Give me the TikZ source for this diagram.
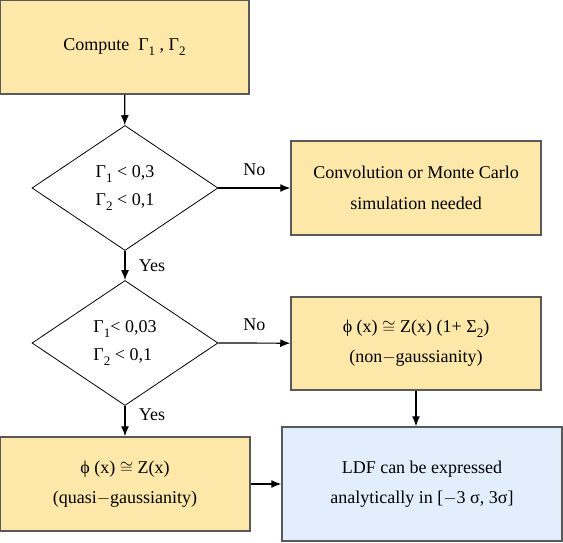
\documentclass[tikz,border=0pt]{standalone}
\usepackage{fontspec}
\setmainfont{Liberation Serif}
\usetikzlibrary{arrows.meta,positioning}
\usetikzlibrary{shapes.geometric}
\usetikzlibrary{calc}
\definecolor{boxyellow}{HTML}{FDE7A9}
\definecolor{boxblue}{HTML}{E2EEFC}
\newcommand{\lowsub}[1]{\raisebox{-5pt}{\fontsize{13}{13}\selectfont #1}}

\begin{document}
\begin{tikzpicture}[
    x=1pt, y=1pt,
    font=\fontsize{18}{30}\selectfont,
    box/.style={draw=black!65, line width=1.5pt, fill=boxyellow, align=center,
        inner sep=0pt, minimum width=250pt, minimum height=94pt},
    decision/.style={draw, diamond, line width=0.8pt, align=left, inner sep=0pt,
        minimum width=186pt, minimum height=125pt},
    line/.style={line width=1.2pt, -{Latex[length=10pt,width=8pt]}},
]
\useasboundingbox (0,0) rectangle (563,-543);
\node[box, minimum width=249pt] (compute) at (124.5,-47) {Compute\ \ Γ\lowsub{1} , Γ\lowsub{2}};
\node[decision] (cond1) at (125,-188) {Γ\lowsub{1} < 0,3\\[-2pt] Γ\lowsub{2} < 0,1};
\node[box] (conv) at (416,-188) {Convolution or Monte Carlo\\[1pt] simulation needed};
\node[decision] (cond2) at (125,-343) {Γ\lowsub{1}< 0,03\\[-2pt] Γ\lowsub{2} < 0,1};
\node[box, minimum height=93pt] (nongauss) at (416,-343.5) {ϕ (x) $\cong$ Z(x) (1+ Σ\lowsub{2})\\ (non$-$gaussianity)};
\node[box] (quasi) at (125,-484) {ϕ (x) $\cong$ Z(x)\\ (quasi$-$gaussianity)};
\node[box, fill=boxblue, minimum width=280pt, minimum height=114pt] (ldf) at (422,-484) {LDF can be expressed\\ analytically in [$-$3 σ, 3σ]};

\draw[line] (compute) -- (cond1);
\draw[line] (cond1.east) -- node[above=8pt] {No} (conv);
\draw[line] (cond1.south) -- node[right=10pt] {Yes} (cond2);
\draw[line] (cond2.east) -- node[above=8pt] {No} (nongauss);
\draw[line] (cond2.south) -- node[right=10pt, pos=0.3] {Yes} (quasi);
\draw[line] (nongauss.south) -- (nongauss.south |- ldf.north);
\draw[line] (quasi) -- (ldf);
\end{tikzpicture}
\end{document}
